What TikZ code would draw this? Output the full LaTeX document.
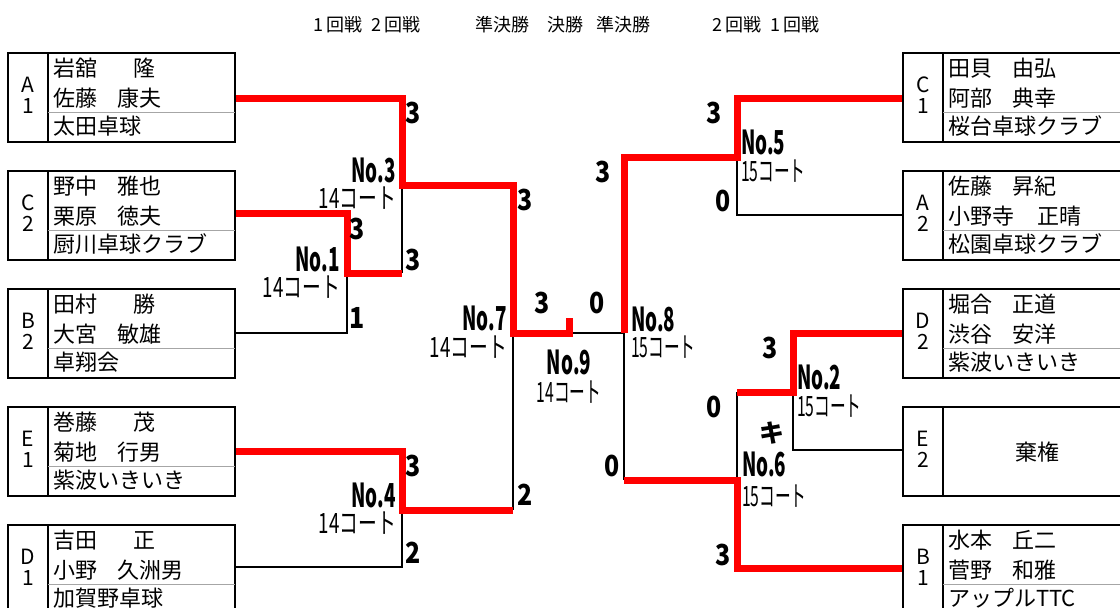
\documentclass[tikz,border=0pt]{standalone}
\usepackage{graphicx}
\usepackage{fontspec}
\setmainfont{Noto Sans CJK JP}
\newcommand\nm[3][64]{\makebox[#1pt][l]{#2}#3}
\newcommand\Sc[1]{\scalebox{0.86}[1]{#1}}
\newcommand\No[1]{\scalebox{0.57}[1]{#1}}
\newcommand\Ct[1]{\scalebox{0.67}[1]{#1}}
\newcommand\Cn[1]{\scalebox{0.56}[1]{#1}}
\tikzset{
  frame/.style={line width=2.6pt, black},
  sep/.style={line width=1pt, black!35},
  wire/.style={line width=2pt, black},
  win/.style={line width=7pt, red, line join=miter},
  letter/.style={inner sep=0pt, font=\fontsize{21}{23}\selectfont},
  pname/.style={anchor=west, inner sep=0pt, font=\fontsize{22}{26}\selectfont},
  hdr/.style={anchor=west, inner sep=0pt, font=\fontsize{18}{20}\selectfont},
  score/.style={inner sep=0pt, font=\bfseries\fontsize{29}{31}\selectfont},
  matchno/.style={inner sep=0pt, font=\bfseries\fontsize{33}{35}\selectfont},
  court/.style={inner sep=0pt, font=\fontsize{28}{30}\selectfont},
  kyo/.style={inner sep=0pt, font=\bfseries\fontsize{25}{27}\selectfont},
}
\newcommand\entry[8]{%
  \draw[frame] (#2,#3) rectangle ({#2+227},{#3+89});
  \draw[frame] ({#2+40},#3) -- ({#2+40},{#3+89});
  \draw[sep] ({#2+40},{#3+59}) -- ({#2+227},{#3+59});
  \node[letter] (#1-l) at ({#2+20},{#3+32}) {#4};
  \node[letter] (#1-d) at ({#2+20},{#3+53}) {#5};
  \node[pname] (#1-a) at ({#2+45},{#3+15}) {#6};
  \node[pname] (#1-b) at ({#2+45},{#3+45}) {#7};
  \node[pname] (#1-c) at ({#2+45},{#3+73}) {#8};
}
\begin{document}
\begin{tikzpicture}[x=1pt,y=-1pt]
\useasboundingbox (0,0) rectangle (1120,608);
\clip (0,0) rectangle (1120,608);
\fill[white] (0,0) rectangle (1120,608);

% headers
\node[hdr] (h1) at (313,25) {1\,回戦\hspace{9pt}2\,回戦};
\node[hdr] (h2) at (475,25) {準決勝};
\node[hdr] (h3) at (547,25) {決勝};
\node[hdr] (h4) at (596,25) {準決勝};
\node[hdr] (h5) at (712,25) {2\,回戦\hspace{9pt}1\,回戦};

% ports and junctions
\coordinate (pA1) at (235,98);
\coordinate (pC2) at (235,213);
\coordinate (pB2) at (235,333);
\coordinate (pE1) at (235,451);
\coordinate (pD1) at (235,567);
\coordinate (pC1) at (903,98);
\coordinate (pA2) at (903,215);
\coordinate (pD2) at (903,333);
\coordinate (pE2) at (903,450);
\coordinate (pB1) at (903,568);
\coordinate (q1) at (347,273);
\coordinate (q3) at (402,185);
\coordinate (q4) at (402,510);
\coordinate (q7) at (513,333);
\coordinate (qf) at (569,333);
\coordinate (q8) at (624,333);
\coordinate (q5) at (737,157);
\coordinate (q6) at (737,480);
\coordinate (q2) at (793,392);

% losing lines
\draw[wire] (pB2) -| (q1);
\draw[wire] (q3) -- (q3 |- q1);
\draw[wire] (pD1) -| (q4);
\draw[wire] (q7) -- (q7 |- q4);
\draw[wire] (qf) -- (q8);
\draw[wire] (pA2) -| (q5);
\draw[wire] (q8) -- (q8 |- q6);
\draw[wire] (q6 |- q2) -- (q6);
\draw[wire] (pE2) -| (q2);

% winning lines
\draw[win] (pA1) -| (q3) -| (q7) -- (qf) -- ++(0,-15);
\draw[win] (pC2) -| (q1) -- (q1 -| q3);
\draw[win] (pE1) -| (q4) -- (q4 -| q7);
\draw[win] (pC1) -| (q5) -| (q8);
\draw[win] (pD2) -| (q2) -- (q2 -| q6);
\draw[win] (pB1) -| (q6) -- (q6 -| q8);

% entries
\entry{A1}{8}{53}{A}{1}{\nm[80]{岩舘}{隆}}{\nm{佐藤}{康夫}}{太田卓球}
\entry{C2}{8}{171}{C}{2}{\nm{野中}{雅也}}{\nm{栗原}{徳夫}}{厨川卓球クラブ}
\entry{B2}{8}{289}{B}{2}{\nm[80]{田村}{勝}}{\nm{大宮}{敏雄}}{卓翔会}
\entry{E1}{8}{407}{E}{1}{\nm[80]{巻藤}{茂}}{\nm{菊地}{行男}}{紫波いきいき}
\entry{D1}{8}{525}{D}{1}{\nm[80]{吉田}{正}}{\nm{小野}{久洲男}}{加賀野卓球}
\entry{C1}{903}{53}{C}{1}{\nm{田貝}{由弘}}{\nm{阿部}{典幸}}{桜台卓球クラブ}
\entry{A2}{903}{171}{A}{2}{\nm{佐藤}{昇紀}}{\nm[89]{小野寺}{正晴}}{松園卓球クラブ}
\entry{D2}{903}{289}{D}{2}{\nm{堀合}{正道}}{\nm{渋谷}{安洋}}{紫波いきいき}
\entry{B1}{903}{525}{B}{1}{\nm{水本}{丘二}}{\nm{菅野}{和雅}}{アップルTTC}
\draw[frame] (903,407) rectangle (1130,496);
\draw[frame] (943,407) -- (943,496);
\node[letter] (E2-l) at (923,439) {E};
\node[letter] (E2-d) at (923,460) {2};
\node[pname, anchor=center] (E2-a) at (1037,452) {棄権};

% left labels
\node[score] (s3a) at (413,113) {\Sc{3}};
\node[matchno, anchor=east] (m3) at (396,170) {\No{No.3}};
\node[court, anchor=east] (c3) at (396,198) {\Ct{14コート}};
\node[score] (s1a) at (357,229) {\Sc{3}};
\node[matchno, anchor=east] (m1) at (340,259) {\No{No.1}};
\node[court, anchor=east] (c1) at (340,287) {\Ct{14コート}};
\node[score] (s3b) at (413,260) {\Sc{3}};
\node[score] (s1b) at (357,318) {\Sc{1}};
\node[score] (s7a) at (525,200) {\Sc{3}};
\node[matchno, anchor=east] (m7) at (507,318) {\No{No.7}};
\node[court, anchor=east] (c7) at (507,347) {\Ct{14コート}};
\node[score] (s9a) at (542,303) {\Sc{3}};
\node[score] (s9b) at (597,303) {\Sc{0}};
\node[matchno] (m9) at (569,362) {\No{No.9}};
\node[court] (c9) at (569,392) {\Cn{14コート}};
\node[score] (s4a) at (413,466) {\Sc{3}};
\node[matchno, anchor=east] (m4) at (396,495) {\No{No.4}};
\node[court, anchor=east] (c4) at (396,523) {\Ct{14コート}};
\node[score] (s7b) at (525,495) {\Sc{2}};
\node[score] (s4b) at (413,553) {\Sc{2}};

% right labels
\node[score] (s5a) at (714,113) {\Sc{3}};
\node[matchno, anchor=west] (m5) at (741,142) {\No{No.5}};
\node[court, anchor=west] (c5) at (741,171) {\Cn{15コート}};
\node[score] (s5b) at (723,201) {\Sc{0}};
\node[score] (s8a) at (603,172) {\Sc{3}};
\node[matchno, anchor=west] (m8) at (631,319) {\No{No.8}};
\node[court, anchor=west] (c8) at (631,347) {\Cn{15コート}};
\node[score] (s2a) at (770,348) {\Sc{3}};
\node[matchno, anchor=west] (m2) at (797,377) {\No{No.2}};
\node[court, anchor=west] (c2) at (797,406) {\Cn{15コート}};
\node[score] (s6a) at (714,407) {\Sc{0}};
\node[kyo] (ki) at (772,433) {キ};
\node[matchno, anchor=west] (m6) at (742,464) {\No{No.6}};
\node[court, anchor=west] (c6) at (742,496) {\Cn{15コート}};
\node[score] (s8b) at (612,466) {\Sc{0}};
\node[score] (s6b) at (723,555) {\Sc{3}};
\end{tikzpicture}
\end{document}
